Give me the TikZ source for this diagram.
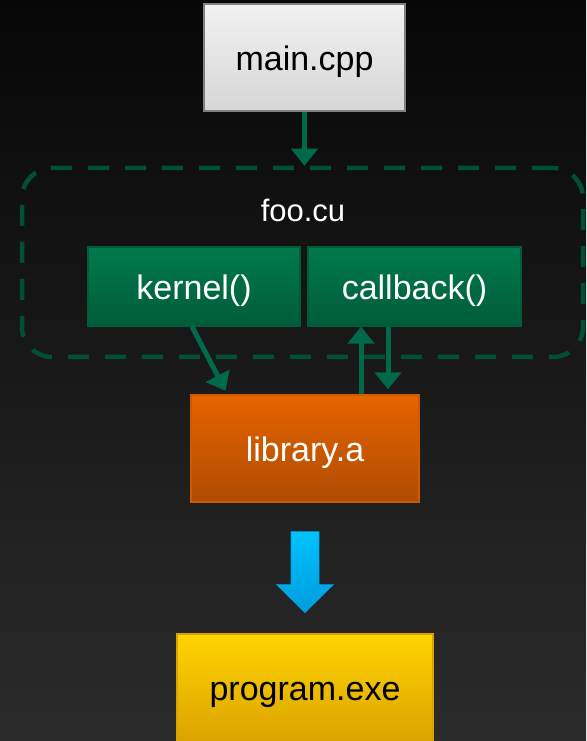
\documentclass[tikz,border=0pt]{standalone}
\usepackage{fontspec}
\setmainfont{Liberation Sans}
\usetikzlibrary{arrows.meta, positioning, calc}
\definecolor{bgtop}{HTML}{070707}
\definecolor{bgbottom}{HTML}{2B2B2B}
\definecolor{srcgray}{HTML}{F2F2F2}
\definecolor{srcgraydk}{HTML}{D6D6D6}
\definecolor{cugreen}{HTML}{007A4D}
\definecolor{cugreendk}{HTML}{005C3A}
\definecolor{linkgreen}{HTML}{00694A}
\definecolor{dashgreen}{HTML}{004F36}
\definecolor{liborange}{HTML}{E66400}
\definecolor{liborangedk}{HTML}{AE4C00}
\definecolor{buildblue}{HTML}{00C2FF}
\definecolor{buildbluedk}{HTML}{009CDC}
\definecolor{exeyellow}{HTML}{FFD400}
\definecolor{exeyellowdk}{HTML}{DBA300}

\begin{document}
\begin{tikzpicture}[
    x=1pt, y=1pt,
    filebox/.style={draw, line width=1.2pt, minimum height=107pt, align=center, text height=31pt, text depth=5pt, font=\fontsize{34}{40}\selectfont},
    funcbox/.style={filebox, draw=cugreendk, top color=cugreen, bottom color=cugreendk, text=white, minimum width=212pt, minimum height=79pt},
    flow/.style={-{Triangle[width=26pt, length=17pt]}, line width=5pt, linkgreen}
]

% background
\shade[top color=bgtop, bottom color=bgbottom] (0,0) rectangle (586,741);
\useasboundingbox (0,0) rectangle (586,741);

% main.cpp
\node[filebox, draw=gray, top color=srcgray, bottom color=srcgraydk, text=black, minimum width=201pt] (maincpp) at (304.5, 683.5) {main.cpp};

% foo.cu frame
\node[draw=dashgreen, line width=4.5pt, dash pattern=on 21pt off 16pt, rounded corners=30pt, minimum width=561pt, minimum height=189pt] (cuframe) at (302.5, 478.5) {};
\node[font=\fontsize{31}{36}\selectfont, text=white] (foocu) at (303, 531) {foo.cu};

\node[funcbox] (kernel) at (194, 454.5) {kernel()};
\node[funcbox, minimum width=213pt] (callback) at (414.5, 454.5) {callback()};

\draw[flow] (maincpp.south) -- (maincpp.south |- cuframe.north);

% library.a
\node[filebox, draw=liborange!90!black, top color=liborange, bottom color=liborangedk, text=white, minimum width=228pt] (library) at (305, 292.5) {library.a};

\coordinate (kerneltip) at ([xshift=37pt]library.north west);
\coordinate (upfoot) at ([xshift=56pt]library.north);
\coordinate (downtip) at ([xshift=83pt]library.north);

\draw[flow, shorten >=4pt] ([xshift=-2pt]kernel.south) -- (kerneltip);
\draw[flow] (upfoot) -- (upfoot |- callback.south);
\draw[flow, shorten >=5pt] (downtip |- callback.south) -- (downtip);

% build arrow
\path (library.south) ++(0,-29) coordinate (buildtop);
\shade[top color=buildblue, bottom color=buildbluedk, draw=buildbluedk, line width=0.6pt]
    ($(buildtop)+(-14,0)$) -- ++(28,0) -- ++(0,-53) -- ++(14.5,0) -- ++(-28.5,-28)
    -- ++(-28.5,28) -- ++(14.5,0) -- cycle;

% program.exe
\node[filebox, draw=exeyellowdk, top color=exeyellow, bottom color=exeyellowdk, text=black, minimum width=256pt] (program) at (305, 53.5) {program.exe};

\end{tikzpicture}
\end{document}
